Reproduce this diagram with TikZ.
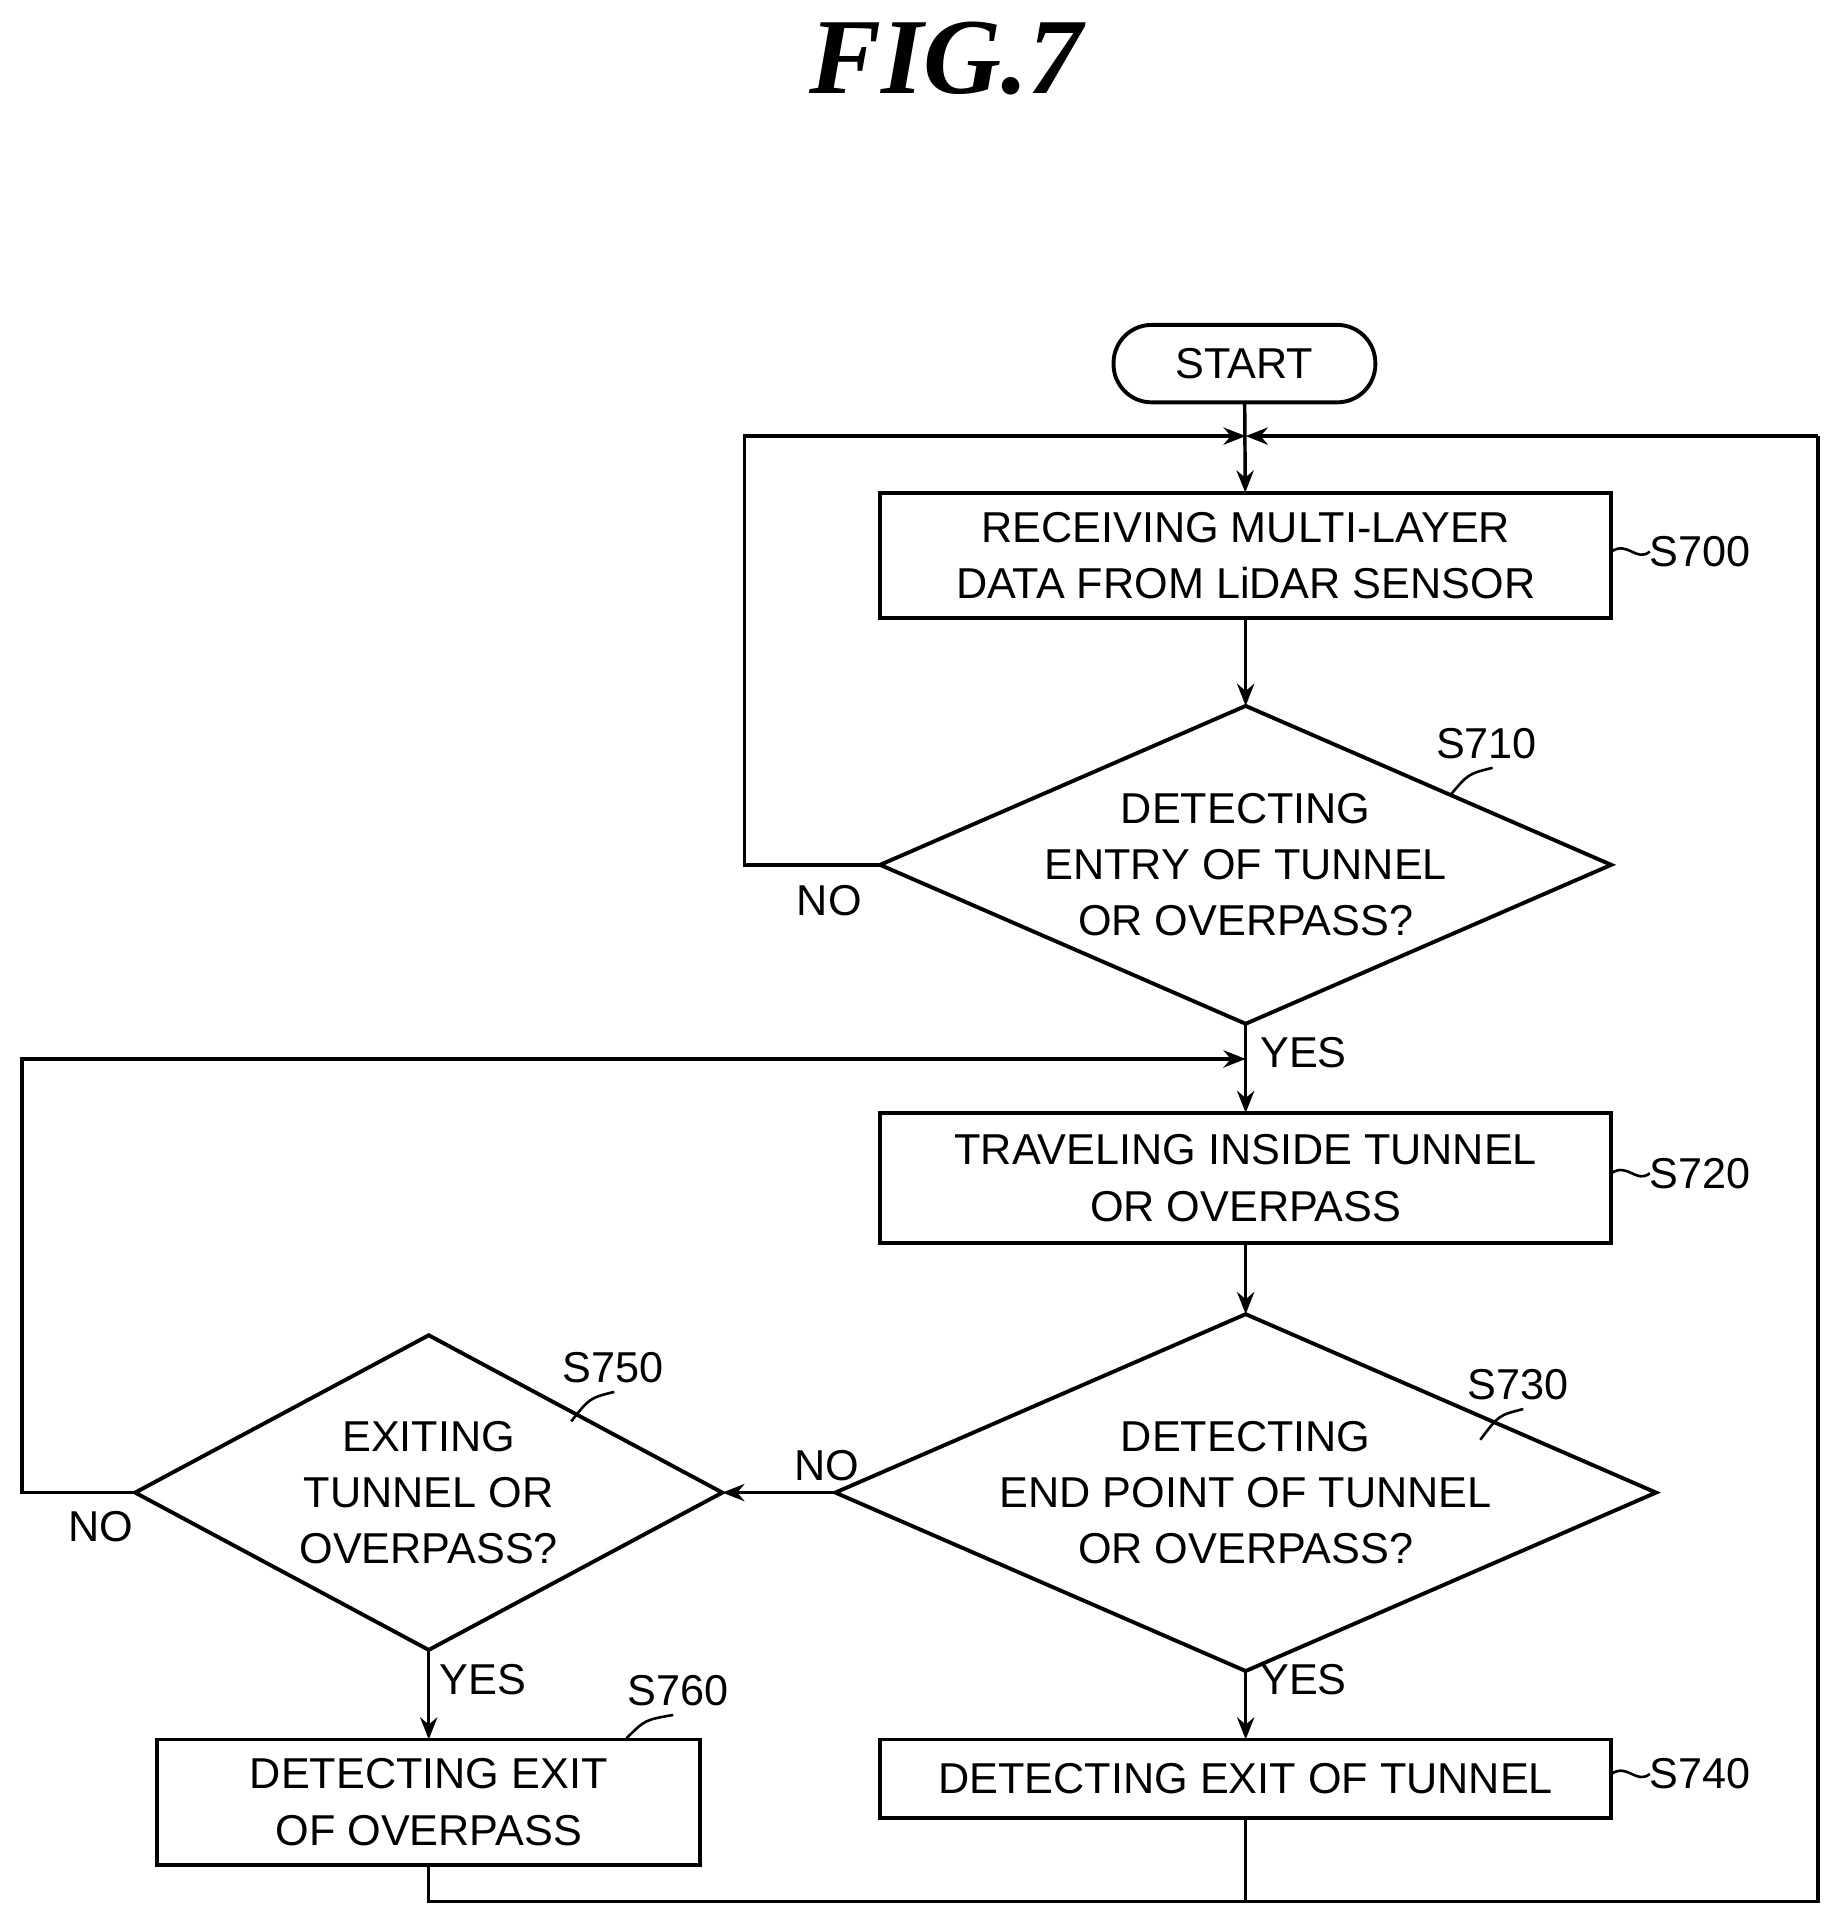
\documentclass[tikz,border=0pt]{standalone}
\usepackage{fontspec}
\setmainfont{Liberation Sans}
\newfontfamily\figfont{Liberation Serif}
\usetikzlibrary{shapes.geometric,arrows.meta,positioning}
\tikzstyle{line} = [draw, -{Stealth[length=1.8mm,width=1.4mm]}, line width=0.8pt]
\begin{document}
\begin{tikzpicture}[x=0.01cm,y=-0.01cm,
    font=\fontsize{10}{13}\selectfont,
    every node/.style={inner sep=0pt, outer sep=0pt},
    box/.style={draw, line width=0.9pt, minimum width=5.95cm, align=center},
    term/.style={draw, line width=0.9pt, rounded corners=0.31cm, minimum width=2.13cm, minimum height=0.63cm},
    dec/.style={draw, line width=0.9pt, diamond, aspect=2.3, align=center},
    lbl/.style={font=\fontsize{10}{12}\selectfont}]

  \useasboundingbox (0,0) rectangle (1500,1567);

  \node[font=\figfont\bfseries\itshape\fontsize{25}{30}\selectfont] (title) at (770,48) {FIG.7};

  \node[term] (start) at (1013,296) {START};
  \node[box, minimum height=1.02cm] (s700) at (1014,452) {RECEIVING MULTI-LAYER\\DATA FROM LiDAR SENSOR};
  \node[dec, minimum width=5.92cm, minimum height=2.55cm] (s710) at (1014,704) {DETECTING\\ENTRY OF TUNNEL\\OR OVERPASS?};
  \node[box, minimum height=1.06cm] (s720) at (1014,959) {TRAVELING INSIDE TUNNEL\\OR OVERPASS};
  \node[dec, minimum width=5.92cm, minimum height=2.56cm] (s730) at (1014,1215) {DETECTING\\END POINT OF TUNNEL\\OR OVERPASS?};
  \node[dec, minimum width=4.38cm, minimum height=2.56cm] (s750) at (349,1215) {EXITING\\TUNNEL OR\\OVERPASS?};
  \node[box, minimum width=4.42cm, minimum height=1.02cm] (s760) at (349,1467) {DETECTING EXIT\\OF OVERPASS};
  \node[box, minimum height=0.64cm] (s740) at (1014,1448) {DETECTING EXIT OF TUNNEL};

  % junction points
  \coordinate (j1) at (1014,355);
  \coordinate (j2) at (1014,862);
  \coordinate (b1) at (349,1548);
  \coordinate (b2) at (1014,1548);
  \coordinate (r1) at (1480,1548);
  \coordinate (r2) at (1480,355);

  \draw[line] (start) -- (s700);
  \draw[line] (s700) -- (s710);
  \draw[line] (s710) -- (s720);
  \draw[line] (s720) -- (s730);
  \draw[line] (s730) -- (s740);
  \draw[line] (s750) -- (s760);
  \draw[line] (s730.west) -- (s750.east);
  \draw[line] (s710.west) -- (606,704) |- (j1);
  \draw[line] (s750.west) -- (18,1215) |- (j2);
  \draw[line width=0.8pt] (s760.south) -- (b1) -- (r1) -- (r2);
  \draw[line] (r2) -- (j1);
  \draw[line width=0.8pt] (s740.south) -- (b2);

  \node[lbl] (no1) at (675,733) {NO};
  \node[lbl] (yes1) at (1061,857) {YES};
  \node[lbl] (no2) at (673,1193) {NO};
  \node[lbl] (no3) at (82,1243) {NO};
  \node[lbl] (yes2) at (393,1367) {YES};
  \node[lbl] (yes3) at (1061,1367) {YES};

  % step labels
  \node[lbl, anchor=west] (l700) at (1343,449) {S700};
  \node[lbl, anchor=west] (l720) at (1343,955) {S720};
  \node[lbl, anchor=west] (l740) at (1343,1444) {S740};
  \draw[line width=0.6pt] (s700.east |- l700) .. controls (1325,440) and (1332,458) .. (l700.west);
  \draw[line width=0.6pt] (s720.east |- l720) .. controls (1325,946) and (1332,964) .. (l720.west);
  \draw[line width=0.6pt] (s740.east |- l740) .. controls (1325,1435) and (1332,1453) .. (l740.west);
  \node[lbl] (l710) at (1210,605) {S710};
  \node[lbl] (l730) at (1236,1127) {S730};
  \node[lbl] (l750) at (499,1113) {S750};
  \node[lbl] (l760) at (552,1376) {S760};
  \draw[line width=0.6pt] (1180,648) .. controls (1195,630) .. (1215,625);
  \draw[line width=0.6pt] (1205,1172) .. controls (1220,1152) .. (1240,1147);
  \draw[line width=0.6pt] (465,1157) .. controls (480,1138) .. (500,1133);
  \draw[line width=0.6pt] (510,1415) .. controls (525,1400) .. (548,1396);
\end{tikzpicture}
\end{document}
